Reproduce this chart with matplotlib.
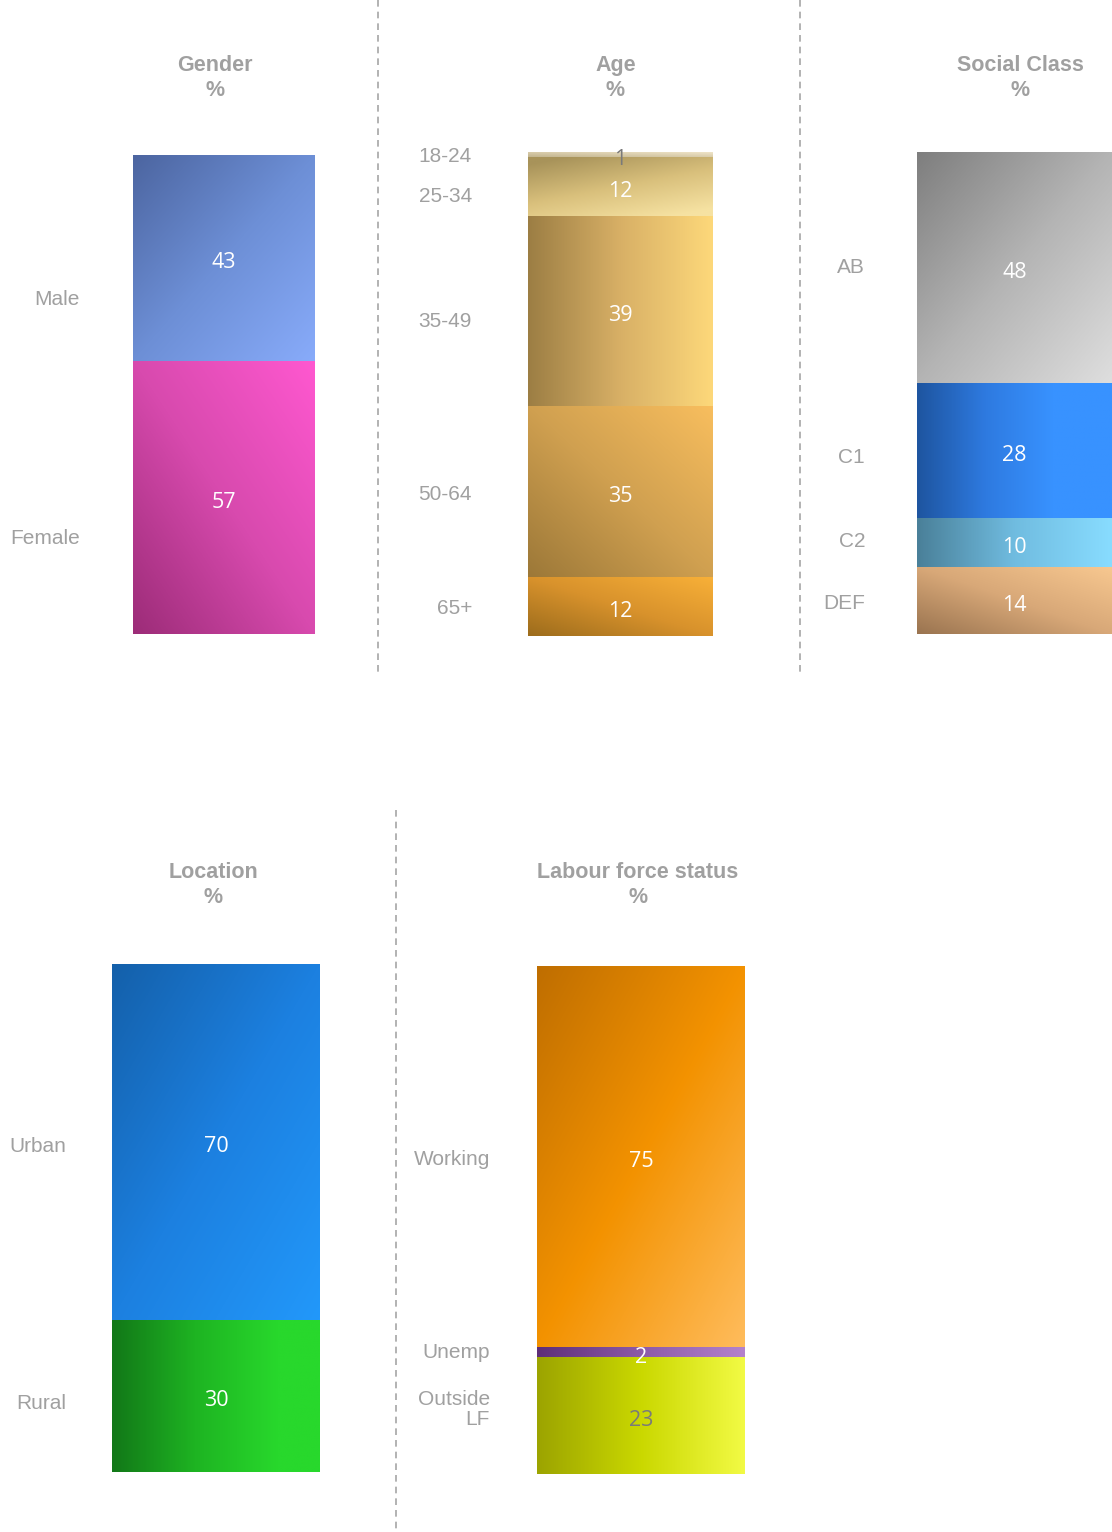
import matplotlib
matplotlib.use("Agg")
import matplotlib.pyplot as plt
import numpy as np
from matplotlib.colors import LinearSegmentedColormap
from matplotlib.lines import Line2D

plt.rcParams["font.family"] = ["Liberation Sans", "DejaVu Sans"]

W, H = 1112, 1532

gender_labels = ['Male', 'Female']
gender_values = [43, 57]
age_labels = ['18-24', '25-34', '35-49', '50-64', '65+']
age_values = [1, 12, 39, 35, 12]
class_labels = ['AB', 'C1', 'C2', 'DEF']
class_values = [48, 28, 10, 14]
location_labels = ['Urban', 'Rural']
location_values = [70, 30]
labour_labels = ['Working', 'Unemp', 'Outside\nLF']
labour_values = [75, 2, 23]

# gradient per segment: colours, start (u, v), end (u, v) in unit box, v up
gender_fills = [
    (['#4c65a0', '#6d8fd6', '#88abfa'], (0, 1), (1, 0)),
    (['#9c2c78', '#d84aae', '#ff58d0'], (0, 0), (1, 1)),
]
age_fills = [
    (['#c2b48e', '#efe4c8'], (0, 0), (1, 1)),
    (['#a8935a', '#d9c07c', '#f6e2a2'], (0.2, 1), (0.8, 0)),
    (['#9c7e44', '#d8b066', '#fdd87a'], (0, 0.5), (1, 0.5)),
    (['#9c7838', '#d0a050', '#f8be5e'], (0, 0), (1, 1)),
    (['#9c6c1c', '#d8922c', '#f8b038'], (0, 0), (1, 1)),
]
class_fills = [
    (['#7e7e7e', '#b4b4b4', '#dedede'], (0, 1), (1, 0)),
    (['#1e55a0', '#2e7ae0', '#3892ff'], (0, 0.5), (0.7, 0.5)),
    (['#4a8099', '#70bce0', '#88dcff'], (0, 0.5), (1, 0.5)),
    (['#9a7450', '#d8a878', '#f8c890'], (0, 0), (1, 1)),
]
location_fills = [
    (['#1460aa', '#1c80e0', '#2298fa'], (0, 1), (1, 0)),
    (['#127818', '#1eb422', '#28d82c'], (0, 0.5), (0.8, 0.5)),
]
labour_fills = [
    (['#bf6e00', '#f39200', '#ffbc5c'], (0, 1), (1, 0)),
    (['#5e2e78', '#8c5aa8', '#b482cc'], (0, 0.5), (1, 0.5)),
    (['#9ca400', '#cad800', '#f2fa44'], (0, 0.5), (1, 0.5)),
]

GREY = '#a0a0a0'


def gradient_fill(ax, patch, colors, start, end, n=200):
    x0, y0 = patch.get_x(), patch.get_y()
    w, h = patch.get_width(), patch.get_height()
    u, v = np.meshgrid(np.linspace(0, 1, n), np.linspace(0, 1, n))
    d = np.subtract(end, start)
    t = ((u - start[0]) * d[0] + (v - start[1]) * d[1]) / (d @ d)
    cmap = LinearSegmentedColormap.from_list('g', colors)
    im = ax.imshow(np.clip(t, 0, 1), cmap=cmap, vmin=0, vmax=1,
                   extent=(x0, x0 + w, y0, y0 + h), origin='lower',
                   aspect='auto', interpolation='bilinear', zorder=2)
    im.set_clip_path(patch)


def panel(title, labels, values, fills, box, gap, label_dy, title_off,
          dark=()):
    x0, x1, ytop, ybot = box
    ax = fig.add_axes([x0 / W, 1 - ybot / H, (x1 - x0) / W, (ybot - ytop) / H])
    total = sum(values)
    tops = total - np.cumsum([0] + values[:-1])
    bars = ax.bar(0.5, values, width=1, bottom=tops - np.array(values),
                  color='none', edgecolor='none')
    for b, (cols, s, e), lab, val, dy in zip(bars, fills, labels, values,
                                             label_dy):
        gradient_fill(ax, b, cols, s, e)
        cy = b.get_y() + b.get_height() / 2
        ax.annotate(str(val), (0.5, cy), xytext=(0, -5),
                    textcoords='offset pixels', ha='center', va='center',
                    fontsize=15.5, family=['Open Sans', 'DejaVu Sans'],
                    zorder=5, color='#7a7a7a' if lab in dark else 'white')
        ax.annotate(lab, (0, cy), xytext=(-gap, dy),
                    textcoords='offset pixels', ha='right', va='center',
                    fontsize=15, color=GREY, linespacing=1.05)
    ax.annotate(title + '\n%', (0.5, total), xytext=title_off,
                textcoords='offset pixels', ha='center', va='center',
                fontsize=15.5, fontweight='bold', color=GREY,
                linespacing=1.2, annotation_clip=False)
    ax.set_xlim(0, 1)
    ax.set_ylim(0, total)
    ax.set_axis_off()
    return ax


fig = plt.figure(figsize=(W / 100, H / 100), dpi=100)

panel('Gender', gender_labels, gender_values, gender_fills,
      (133, 315, 155, 634), 53, [-41.5, -41.5], (-9, 77))
panel('Age', age_labels, age_values, age_fills,
      (528, 713, 152, 636), 56, [-2.5, -10.5, -10.5, -2.5, -1.5], (-5, 74),
      dark=('18-24',))
panel('Social Class', class_labels, class_values, class_fills,
      (917, 1112, 152, 634), 52, [0, -6.5, 0.5, -3], (6, 74))
panel('Location', location_labels, location_values, location_fills,
      (112, 320, 964, 1472), 46, [-5, -8], (-3, 79))
panel('Labour force status', labour_labels, labour_values, labour_fills,
      (537, 745, 966, 1474), 47, [-3, -0.5, 6], (-3, 81),
      dark=('Outside\nLF',))

# dashed separators
for x, y0, y1 in [(378, 0, 672), (800, 0, 672), (396, 810, 1532)]:
    fig.add_artist(Line2D([x / W, x / W], [1 - y0 / H, 1 - y1 / H],
                          color='#a6a6a6', lw=1.2, ls=(0, (4, 3))))

fig.savefig('out.png', dpi=100)
